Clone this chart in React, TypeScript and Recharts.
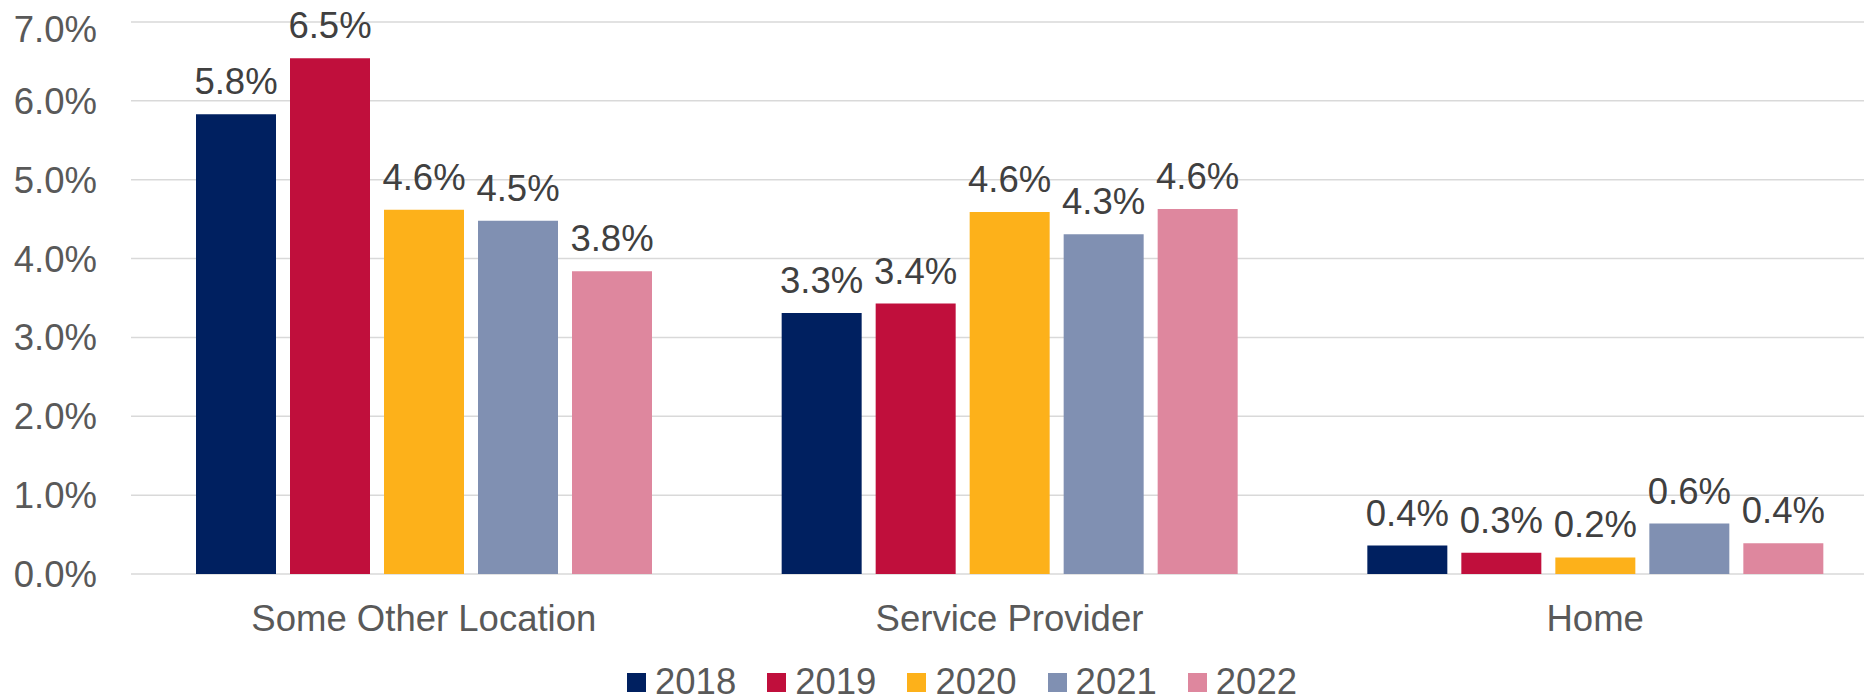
import React from "react";
import {
  BarChart,
  Bar,
  XAxis,
  YAxis,
  CartesianGrid,
  Legend,
  LabelList,
} from "recharts";

const categories = ["Some Other Location", "Service Provider", "Home"];
const years = ["2018", "2019", "2020", "2021", "2022"];
const v2018 = [5.83, 3.31, 0.36];
const v2019 = [6.54, 3.43, 0.27];
const v2020 = [4.62, 4.59, 0.21];
const v2021 = [4.48, 4.31, 0.64];
const v2022 = [3.84, 4.63, 0.39];
const yTicks = [0, 1, 2, 3, 4, 5, 6, 7];

const colors = ["#002060", "#C00F3C", "#FDB11A", "#8090B2", "#DE879E"];
const font = "'Liberation Sans', Arial, sans-serif";
const fs = 36.5;

const seriesValues = [v2018, v2019, v2020, v2021, v2022];
const rows = categories.map((c, i) => {
  const row: any = { name: c };
  years.forEach((y, k) => {
    row[y] = seriesValues[k][i];
  });
  return row;
});

const pct = (v: any) => Number(v).toFixed(1) + "%";

const LegendBox = () => (
  <div
    style={{
      width: 1880,
      height: 36,
      display: "flex",
      alignItems: "center",
      paddingLeft: 619,
      boxSizing: "border-box",
      fontFamily: font,
      fontSize: fs,
      color: "#595959",
    }}
  >
    {years.map((y, k) => (
      <div
        key={y}
        style={{ display: "flex", alignItems: "center", marginRight: 31 }}
      >
        <span
          style={{
            width: 19,
            height: 19,
            background: colors[k],
            marginRight: 9,
            display: "inline-block",
          }}
        />
        <span style={{ lineHeight: "36px" }}>{y}</span>
      </div>
    ))}
  </div>
);

export default function App() {
  return (
    <div style={{ width: 1864, height: 692, overflow: "hidden" }}>
      <BarChart
        width={1880}
        height={692}
        data={rows}
        margin={{ top: 14, right: 0, bottom: 0, left: 0 }}
        barCategoryGap={65}
        barGap={14}
      >
        <CartesianGrid
          vertical={false}
          stroke="#D9D9D9"
          strokeWidth={1.5}
        />
        <XAxis
          dataKey="name"
          axisLine={false}
          tickLine={false}
          tickSize={0}
          tickMargin={31}
          height={90}
          tick={{ fill: "#595959", fontSize: fs, fontFamily: font }}
        />
        <YAxis
          domain={[0, 7]}
          ticks={yTicks}
          width={123}
          axisLine={false}
          tickLine={false}
          tickSize={0}
          tickMargin={34}
          tickFormatter={pct}
          tick={{ fill: "#595959", fontSize: fs, fontFamily: font }}
        />
        <Legend verticalAlign="bottom" content={<LegendBox />} />
        {years.map((y, k) => (
          <Bar key={y} dataKey={y} fill={colors[k]} isAnimationActive={false}>
            <LabelList
              dataKey={y}
              position="top"
              offset={20}
              formatter={pct}
              style={{ fill: "#404040", fontSize: fs, fontFamily: font }}
            />
          </Bar>
        ))}
      </BarChart>
    </div>
  );
}
